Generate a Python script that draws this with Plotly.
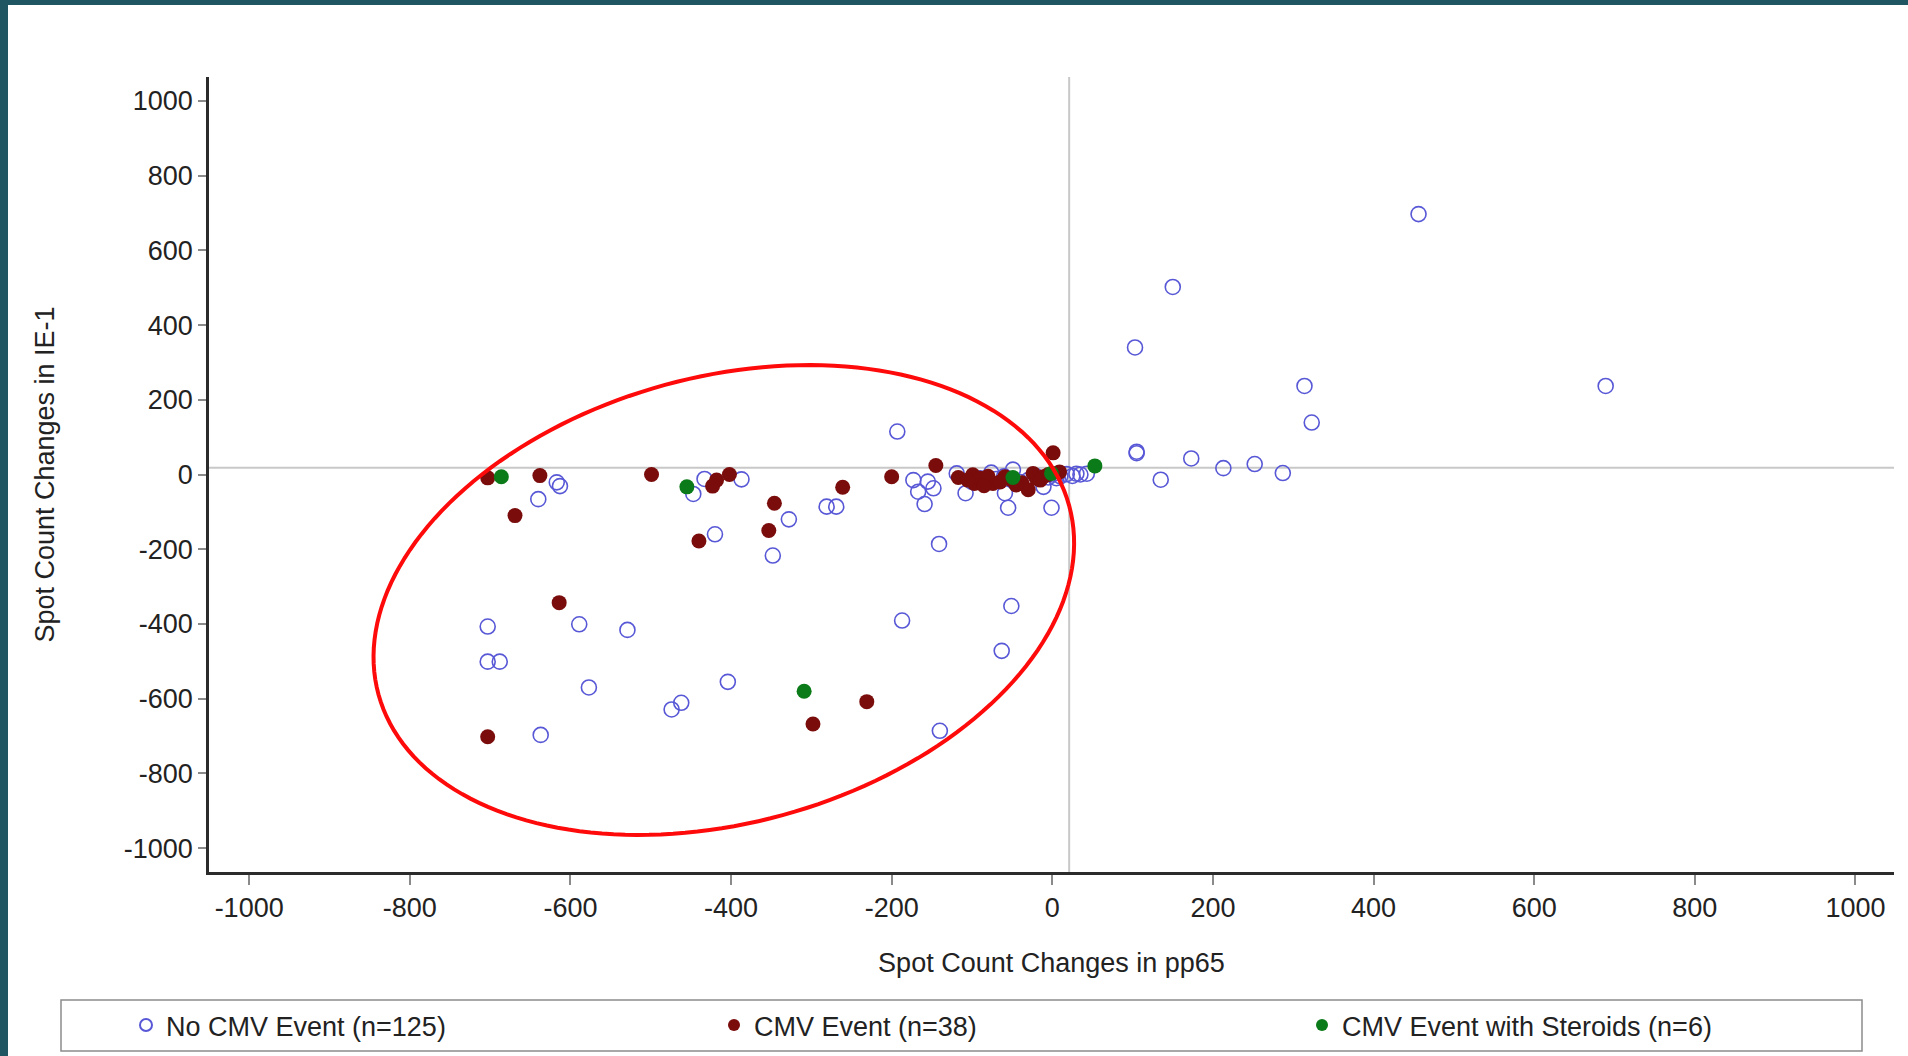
import numpy as np
import plotly.graph_objects as go

# ---------------- data ----------------
no_cmv_x = [-617, -613, -640, -447, -433, -387, -328, -420, -348, -281, -269,
            -703, -589, -529, -703, -688, -577, -404, -462, -474, -637,
            -193, -173, -155, -167, -148, -159, -141, -108, -119, -76, -49,
            -59, -55, -1, -11, 5, 18, 30, 43,
            -187, -51, -63, -140,
            456, 150, 103, 314, 689, 323, 105, 105, 173, 135, 213, 252, 287,
            -90, -60, -30, -20, 0, 10, -100, -40, -70, 25, 35, -5]
no_cmv_y = [-21, -31, -66, -52, -12, -13, -120, -160, -217, -86, -86,
            -407, -401, -416, -501, -501, -570, -555, -611, -629, -697,
            115, -15, -19, -46, -37, -79, -186, -50, 3, 5, 13,
            -50, -89, -89, -33, -10, 1, 2, 2,
            -391, -352, -472, -686,
            697, 502, 340, 237, 237, 139, 61, 57, 43, -14, 17, 28, 4,
            -10, -5, -15, -5, 0, -5, -20, -20, -12, -4, 0, -8]

cmv_x = [-703, -638, -499, -669, -418, -402, -423, -261, -346, -353, -440,
         -614, -703, -298, -231, -200, -145,
         -117, -99, -97, -74, -59, -38, -30, -24, -11, 9, 1,
         -90, -80, -50, -20, -105, -65, -45, -15, -5, -85]
cmv_y = [-9, -3, 0, -110, -15, 0, -31, -34, -77, -150, -178,
         -343, -702, -668, -608, -6, 24,
         -8, -1, -24, -24, -6, -22, -41, 3, -6, 7, 58,
         -10, -5, -15, -10, -15, -20, -28, -15, 0, -30]

steroid_x = [-686, -455, -309, -49, -1, 53]
steroid_y = [-6, -33, -580, -8, 3, 23]

x_ticks = [-1000, -800, -600, -400, -200, 0, 200, 400, 600, 800, 1000]
y_ticks = [-1000, -800, -600, -400, -200, 0, 200, 400, 600, 800, 1000]

ref_x = 21    # vertical reference line
ref_y = 18    # horizontal reference line

names = ["No CMV Event (n=125)", "CMV Event (n=38)", "CMV Event with Steroids (n=6)"]

# ---------------- layout geometry (pixels) ----------------
W, H = 1908, 1056
L, R, T, B = 209, 1894, 77, 872
x_range = [-1050, 1048]
y_range = [-1064, 1064]
px_per_x = (R - L) / (x_range[1] - x_range[0])
px_per_y = (B - T) / (y_range[1] - y_range[0])


def px_to_paper_x(px):
    return (px - L) / (R - L)


def px_to_paper_y(py):
    return (B - py) / (B - T)


FONT = "Liberation Sans, Arial, sans-serif"
TXT = "#222222"

fig = go.Figure()
fig.add_trace(go.Scatter(
    x=no_cmv_x, y=no_cmv_y, mode="markers", name=names[0],
    marker=dict(symbol="circle-open", size=15, color="rgb(88,88,215)",
                line=dict(width=1.6, color="rgb(88,88,215)")),
))
fig.add_trace(go.Scatter(
    x=cmv_x, y=cmv_y, mode="markers", name=names[1],
    marker=dict(symbol="circle", size=15, color="#7a0c0c", line=dict(width=0)),
))
fig.add_trace(go.Scatter(
    x=steroid_x, y=steroid_y, mode="markers", name=names[2],
    marker=dict(symbol="circle", size=15, color="#0b7a18", line=dict(width=0)),
))

shapes = []
# reference lines
shapes.append(dict(type="line", xref="x", yref="paper", x0=ref_x, x1=ref_x, y0=0, y1=1,
                   line=dict(color="#c8c8c8", width=2), layer="below"))
shapes.append(dict(type="line", xref="paper", yref="y", x0=0, x1=1, y0=ref_y, y1=ref_y,
                   line=dict(color="#c8c8c8", width=2), layer="below"))

# red annotation ellipse (pixel geometry -> data coordinates)
e_cx, e_cy = -409, -336       # centre, data units
e_a, e_b = 358, 223           # semi-axes, pixels
e_theta = np.deg2rad(15.3)
t = np.linspace(0, 2 * np.pi, 181)
dx = e_a * np.cos(t) * np.cos(e_theta) - e_b * np.sin(t) * np.sin(e_theta)
dy = e_a * np.cos(t) * np.sin(e_theta) + e_b * np.sin(t) * np.cos(e_theta)
ex = e_cx + dx / px_per_x
ey = e_cy + dy / px_per_y
path = "M " + " L ".join(f"{a:.2f},{b:.2f}" for a, b in zip(ex, ey)) + " Z"
shapes.append(dict(type="path", xref="x", yref="y", path=path,
                   line=dict(color="#ff0a0a", width=4), layer="above"))

# teal frame stripes (top and left)
teal = "#1f5661"
shapes.append(dict(type="rect", xref="paper", yref="paper",
                   x0=px_to_paper_x(0), x1=px_to_paper_x(W), y0=px_to_paper_y(5), y1=px_to_paper_y(0),
                   fillcolor=teal, line=dict(width=0), layer="above"))
shapes.append(dict(type="rect", xref="paper", yref="paper",
                   x0=px_to_paper_x(0), x1=px_to_paper_x(8), y0=px_to_paper_y(H), y1=px_to_paper_y(0),
                   fillcolor=teal, line=dict(width=0), layer="above"))

# legend box
shapes.append(dict(type="rect", xref="paper", yref="paper",
                   x0=px_to_paper_x(61), x1=px_to_paper_x(1862),
                   y0=px_to_paper_y(1051), y1=px_to_paper_y(1000),
                   line=dict(color="#8c8c8c", width=1.5), fillcolor="rgba(0,0,0,0)", layer="below"))

fig.update_layout(
    width=W, height=H,
    margin=dict(l=L, r=W - R, t=T, b=H - B, pad=0, autoexpand=False),
    paper_bgcolor="white", plot_bgcolor="white",
    font=dict(family=FONT, size=27, color=TXT),
    showlegend=True,
    legend=dict(orientation="h", xref="paper", yref="paper",
                x=px_to_paper_x(126), y=px_to_paper_y(1001),
                xanchor="left", yanchor="top", bgcolor="rgba(0,0,0,0)",
                borderwidth=0, font=dict(family=FONT, size=27, color=TXT),
                entrywidth=543, entrywidthmode="pixels", itemsizing="constant"),
    shapes=shapes,
    xaxis=dict(range=x_range, tickvals=x_ticks, ticktext=[str(v) for v in x_ticks],
               showgrid=False, zeroline=False, showline=True, linecolor="#2b2b2b", linewidth=2.5,
               ticks="outside", ticklen=10, tickwidth=1.5, tickcolor="#8a8a8a",
               tickfont=dict(family=FONT, size=27, color=TXT),
               title=dict(text="Spot Count Changes in pp65", font=dict(family=FONT, size=27, color=TXT),
                          standoff=31),
               fixedrange=True, automargin=False),
    yaxis=dict(range=y_range, tickvals=y_ticks, ticktext=[str(v) for v in y_ticks],
               showgrid=False, zeroline=False, showline=True, linecolor="#2b2b2b", linewidth=2.5,
               ticks="outside", ticklen=8, tickwidth=1.5, tickcolor="#8a8a8a",
               tickfont=dict(family=FONT, size=27, color=TXT),
               title=dict(text="Spot Count Changes in IE-1", font=dict(family=FONT, size=27, color=TXT),
                          standoff=62),
               fixedrange=True, automargin=False),
)

fig.write_html("out.html", include_plotlyjs=True)
